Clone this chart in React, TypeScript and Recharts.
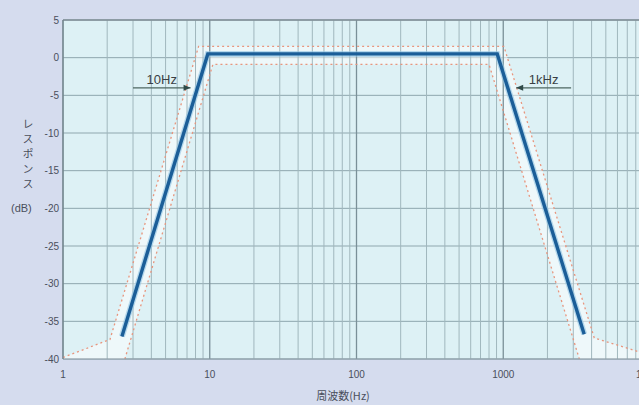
import React from "react";
import {
  Area,
  CartesianGrid,
  ComposedChart,
  Line,
  ReferenceLine,
  XAxis,
  YAxis,
} from "recharts";

// response (dB), frequency in Hz
const responseFreq = [2.52, 9.7, 910, 3560];
const responseDb = [-37, 0.5, 0.5, -36.7];

const upperFreq = [1, 2.09, 8.4, 1010, 4170, 10000];
const upperDb = [-39.8, -37.4, 1.5, 1.5, -37.2, -39.5];

const lowerFreq = [2.64, 10.5, 800, 3300];
const lowerDb = [-40, -0.9, -0.9, -40];

// tolerance band (white fill) between the dotted curves
const bandFreq = [1, 2.09, 2.64, 8.4, 10.5, 800, 1010, 3300, 4170, 10000];
const bandLow = [-40, -40, -40, -7.1, -0.9, -0.9, -7.4, -40, -40, -40];
const bandHigh = [-39.8, -37.4, -30.8, 1.5, 1.5, 1.5, 1.5, -30.7, -37.2, -39.5];

const xTicks = [1, 10, 100, 1000, 10000];
const yTicks = [-40, -35, -30, -25, -20, -15, -10, -5, 0, 5];
const decades = [1, 10, 100, 1000];
const minorSteps = [2, 3, 4, 5, 6, 7, 8, 9];

const response = responseFreq.map((f, i) => ({ f, db: responseDb[i] }));
const upper = upperFreq.map((f, i) => ({ f, db: upperDb[i] }));
const lower = lowerFreq.map((f, i) => ({ f, db: lowerDb[i] }));
const band = bandFreq.map((f, i) => ({ f, band: [bandLow[i], bandHigh[i]] }));
const minorFreqs = decades.flatMap((d) => minorSteps.map((m) => d * m));

const TICK_FONT = "'Liberation Sans', Arial, sans-serif";
const CJK_FONT = "'Noto Sans CJK JP', sans-serif";

function ArrowShape(props: any) {
  const { x1, y1, x2, y2, pointRight } = props;
  const tipX = pointRight ? x2 : x1;
  const dir = pointRight ? -1 : 1;
  return (
    <g>
      <line x1={x1} y1={y1} x2={x2} y2={y2} stroke="#4d6660" strokeWidth={1.2} />
      <polygon
        points={`${tipX},${y1} ${tipX + dir * 7},${y1 - 3} ${tipX + dir * 7},${y1 + 3}`}
        fill="#2f4a48"
      />
    </g>
  );
}

export default function App() {
  return (
    <div
      style={{
        position: "fixed",
        left: 0,
        top: 0,
        width: 639,
        height: 405,
        overflow: "hidden",
        background: "#d5dcee",
      }}
    >
      <ComposedChart
        width={680}
        height={405}
        margin={{ top: 20, right: 30, bottom: 16, left: 5 }}
      >
        <CartesianGrid
          vertical={false}
          stroke="#8fa7ae"
          strokeWidth={1}
          fill="#ddf1f5"
        />
        <XAxis
          type="number"
          dataKey="f"
          scale="log"
          domain={[1, 10000]}
          ticks={xTicks}
          allowDataOverflow
          height={30}
          tickLine={false}
          tickSize={4}
          tickMargin={8}
          axisLine={{ stroke: "#8a9aa5" }}
          tick={{ fontSize: 10, fill: "#4a4f5c", fontFamily: TICK_FONT }}
        />
        <YAxis
          type="number"
          domain={[-40, 5]}
          ticks={yTicks}
          width={58}
          tickLine={false}
          tickSize={2}
          tickMargin={2}
          axisLine={{ stroke: "#6f8088" }}
          tick={{ fontSize: 10, fill: "#4a4f5c", fontFamily: TICK_FONT }}
        />
        {minorFreqs.map((f) => (
          <ReferenceLine key={`m${f}`} x={f} stroke="#a0b7bd" strokeWidth={1} />
        ))}
        {xTicks.map((f) => (
          <ReferenceLine key={`d${f}`} x={f} stroke="#7a9098" strokeWidth={1.3} />
        ))}
        <ReferenceLine y={5} stroke="#7f8e96" strokeWidth={1.5} />
        <Area
          data={band}
          dataKey="band"
          type="linear"
          stroke="none"
          fill="#ffffff"
          fillOpacity={0.5}
          isAnimationActive={false}
        />
        <Line
          data={upper}
          dataKey="db"
          type="linear"
          stroke="#e8957d"
          strokeWidth={1.3}
          strokeDasharray="2 3"
          dot={false}
          isAnimationActive={false}
        />
        <Line
          data={lower}
          dataKey="db"
          type="linear"
          stroke="#e8957d"
          strokeWidth={1.3}
          strokeDasharray="2 3"
          dot={false}
          isAnimationActive={false}
        />
        <Line
          data={response}
          dataKey="db"
          type="linear"
          stroke="#8fc3e3"
          strokeWidth={6}
          strokeOpacity={0.6}
          dot={false}
          isAnimationActive={false}
        />
        <Line
          data={response}
          dataKey="db"
          type="linear"
          stroke="#1b5e98"
          strokeWidth={3.4}
          strokeLinejoin="miter"
          dot={false}
          isAnimationActive={false}
        />
        <ReferenceLine
          segment={[
            { x: 3.0, y: -4 },
            { x: 7.4, y: -4 },
          ]}
          shape={(p: any) => <ArrowShape {...p} pointRight />}
          label={{
            value: "10Hz",
            position: "top",
            offset: 4,
            fontSize: 13,
            fill: "#3a3f44",
            fontFamily: TICK_FONT,
          }}
        />
        <ReferenceLine
          segment={[
            { x: 1225, y: -4 },
            { x: 2900, y: -4 },
          ]}
          shape={(p: any) => <ArrowShape {...p} pointRight={false} />}
          label={{
            value: "1kHz",
            position: "top",
            offset: 4,
            fontSize: 13,
            fill: "#3a3f44",
            fontFamily: TICK_FONT,
          }}
        />
      </ComposedChart>
      <div
        style={{
          position: "absolute",
          left: 20,
          top: 118,
          writingMode: "vertical-rl",
          textOrientation: "upright",
          fontSize: 11,
          letterSpacing: 4,
          color: "#4a4f5c",
          fontFamily: CJK_FONT,
        }}
      >
        レスポンス
      </div>
      <div
        style={{
          position: "absolute",
          left: 11,
          top: 202,
          fontSize: 11,
          color: "#4a4f5c",
          fontFamily: TICK_FONT,
        }}
      >
        (dB)
      </div>
      <div
        style={{
          position: "absolute",
          left: 298,
          top: 387,
          width: 90,
          textAlign: "center",
          fontSize: 11,
          color: "#4a4f5c",
          fontFamily: CJK_FONT,
        }}
      >
        周波数(Hz)
      </div>
    </div>
  );
}
